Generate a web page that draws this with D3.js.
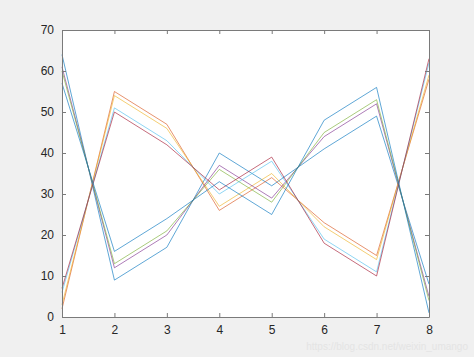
<!DOCTYPE html>
<html>
<head>
<meta charset="utf-8">
<script src="https://cdn.jsdelivr.net/npm/d3@7"></script>
<style>
  html, body { margin: 0; padding: 0; background: #f0f0f0; }
  svg { display: block; }
  .tick text { font-family: "Liberation Sans", Arial, sans-serif; font-size: 12px; fill: #262626; }
</style>
</head>
<body>
<div id="chart"></div>
<script>
// x positions (row index) and one series per column of the 8x8 magic square
const xValues = [1, 2, 3, 4, 5, 6, 7, 8];
const series1 = [64, 9, 17, 40, 32, 41, 49, 8];
const series2 = [2, 55, 47, 26, 34, 23, 15, 58];
const series3 = [3, 54, 46, 27, 35, 22, 14, 59];
const series4 = [61, 12, 20, 37, 29, 44, 52, 5];
const series5 = [60, 13, 21, 36, 28, 45, 53, 4];
const series6 = [6, 51, 43, 30, 38, 19, 11, 62];
const series7 = [7, 50, 42, 31, 39, 18, 10, 63];
const series8 = [57, 16, 24, 33, 25, 48, 56, 1];
const yTicks = [0, 10, 20, 30, 40, 50, 60, 70];

const allSeries = [series1, series2, series3, series4, series5, series6, series7, series8];
// MATLAB default colour order, wrapping back to blue for the 8th line
const colours = ['#0072BD', '#D95319', '#EDB120', '#7E2F8E', '#77AC30', '#4DBEEE', '#A2142F', '#0072BD'];

const width = 474, height = 357;
const plot = { left: 62, top: 30, right: 429, bottom: 317 };

const svg = d3.select('#chart').append('svg')
  .attr('width', width)
  .attr('height', height);

const x = d3.scaleLinear().domain([1, 8]).range([plot.left, plot.right]);
const y = d3.scaleLinear().domain([0, 70]).range([plot.bottom, plot.top]);

// white axes area
svg.append('rect')
  .attr('x', plot.left).attr('y', plot.top)
  .attr('width', plot.right - plot.left).attr('height', plot.bottom - plot.top)
  .attr('fill', '#fff');

const line = d3.line()
  .x((d, i) => x(xValues[i]))
  .y(d => y(d));

svg.append('g')
  .selectAll('path')
  .data(allSeries)
  .join('path')
  .attr('d', line)
  .attr('fill', 'none')
  .attr('stroke', (d, i) => colours[i])
  .attr('stroke-width', 0.9)
  .attr('stroke-opacity', 0.7);

// axes with inward ticks, box on
const tickLen = 4;
const styleAxis = g => {
  g.select('.domain').attr('stroke', '#7a7a7a');
  g.selectAll('.tick line').attr('stroke', '#7a7a7a');
};

svg.append('g')
  .attr('transform', `translate(0,${plot.bottom})`)
  .call(d3.axisBottom(x).tickValues(xValues).tickFormat(d3.format('d'))
    .tickSizeInner(-tickLen).tickSizeOuter(0).tickPadding(8))
  .call(styleAxis);

svg.append('g')
  .attr('transform', `translate(${plot.left},0)`)
  .call(d3.axisLeft(y).tickValues(yTicks).tickSizeInner(-tickLen).tickSizeOuter(0).tickPadding(8))
  .call(styleAxis);

svg.append('g')
  .attr('transform', `translate(0,${plot.top})`)
  .call(d3.axisTop(x).tickValues(xValues).tickSizeInner(-tickLen).tickSizeOuter(0).tickFormat(''))
  .call(styleAxis);

svg.append('g')
  .attr('transform', `translate(${plot.right},0)`)
  .call(d3.axisRight(y).tickValues(yTicks).tickSizeInner(-tickLen).tickSizeOuter(0).tickFormat(''))
  .call(styleAxis);

// faint watermark
svg.append('text')
  .attr('x', 468).attr('y', 350)
  .attr('text-anchor', 'end')
  .style('font-family', '"Liberation Sans", Arial, sans-serif')
  .style('font-size', '10px')
  .style('fill', '#e4e4e4')
  .text('https://blog.csdn.net/weixin_umango');
</script>
</body>
</html>
